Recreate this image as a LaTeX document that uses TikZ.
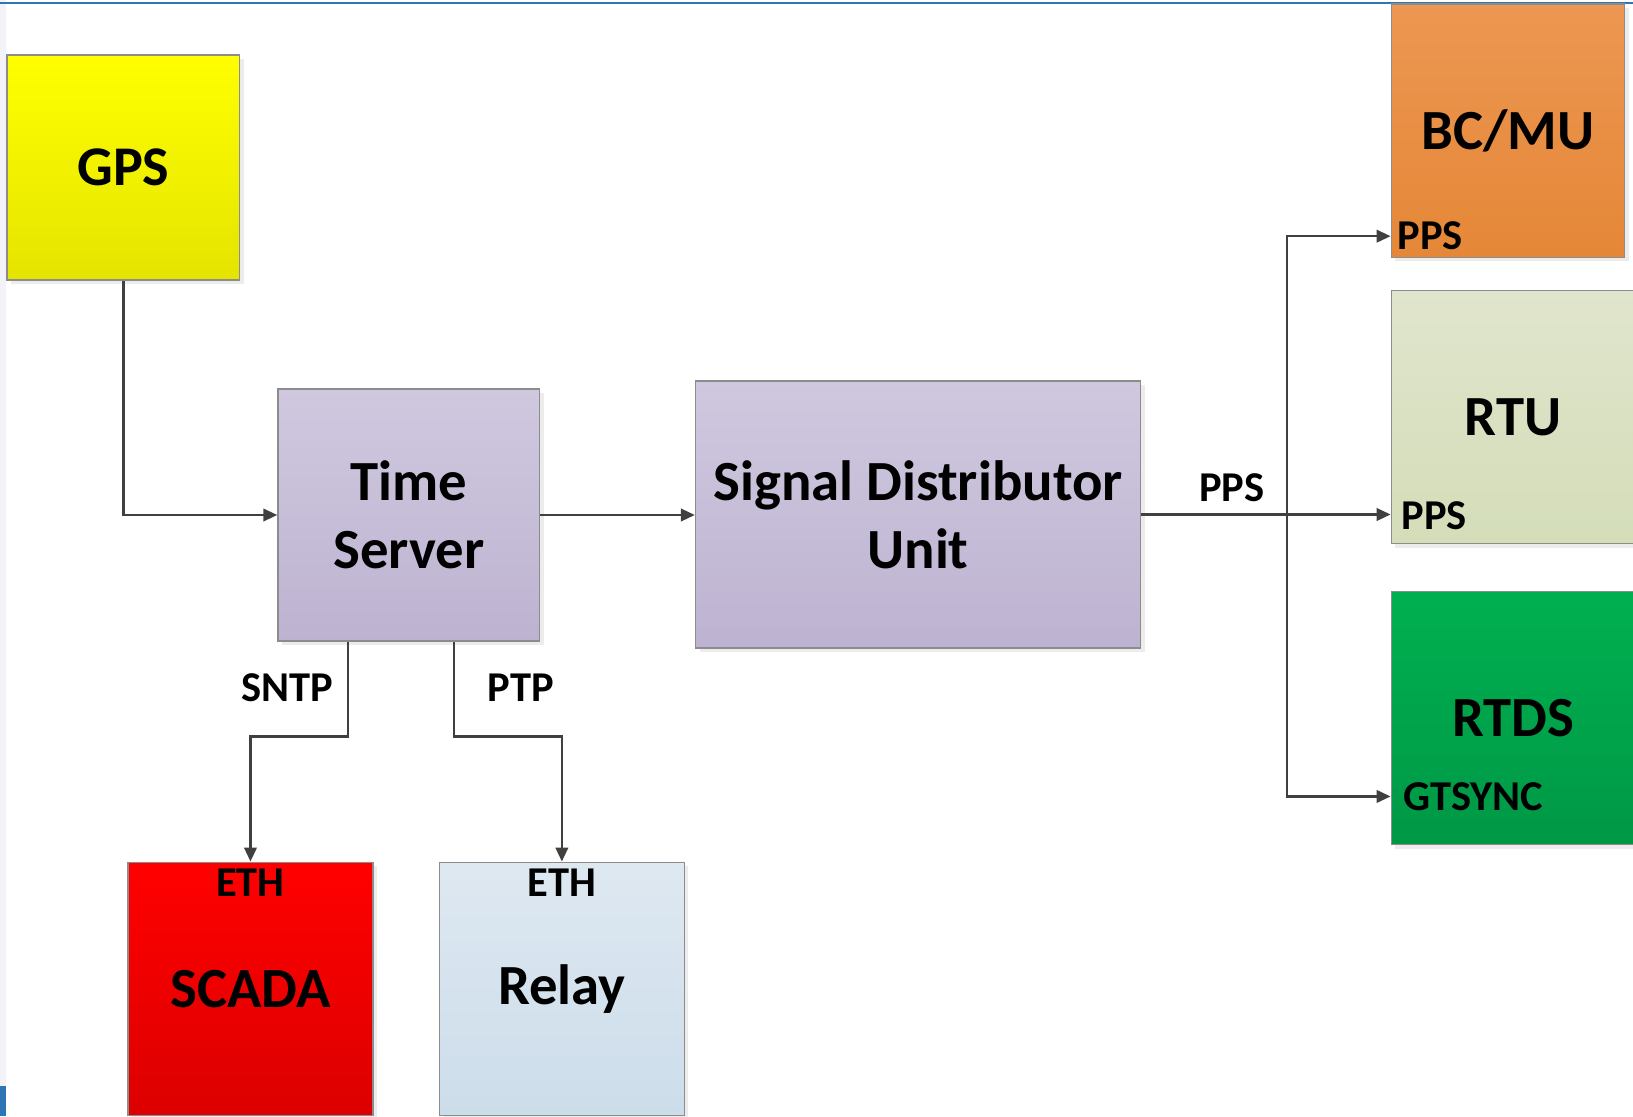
\documentclass[tikz,border=0pt]{standalone}
\usepackage{fontspec}
\setmainfont{Carlito}
\usetikzlibrary{arrows.meta,shadows}

\definecolor{edgegrey}{HTML}{8C8C8C}
\definecolor{linkgrey}{HTML}{404040}
\definecolor{frameblue}{HTML}{2E75B6}
\definecolor{framegrey}{HTML}{F2F2F8}

\begin{document}
\begin{tikzpicture}[x=0.01cm,y=-0.01cm,
    box/.style={draw=edgegrey, line width=0.4pt, inner sep=0pt, align=center,
        font=\bfseries\fontsize{15.5}{18.5}\selectfont,
        drop shadow={shadow xshift=0.04cm, shadow yshift=-0.04cm, fill=black!15}},
    tag/.style={font=\bfseries\fontsize{11.6}{13}\selectfont, inner sep=0pt},
    link/.style={draw=linkgrey, line width=0.65pt, -{Triangle[length=3.8pt,width=3.4pt]}}]

    % Rahmen
    \clip (0,0) rectangle (1568,1072);
    \fill[framegrey] (0,0) rectangle (6,1072);
    \fill[frameblue] (0,1043) rectangle (6,1072);
    \draw[frameblue, line width=0.4pt] (0,3) -- (1568,3);

    % Quelle und Server
    \node[box, top color=yellow, bottom color={rgb,255:red,228;green,228;blue,0},
          minimum width=2.23cm, minimum height=2.16cm, font=\bfseries\fontsize{15.3}{18}\selectfont]
        (gps) at (118.5,161) {GPS};
    \node[box, top color={rgb,255:red,208;green,200;blue,223}, bottom color={rgb,255:red,189;green,179;blue,209},
          minimum width=2.51cm, minimum height=2.42cm]
        (tserver) at (392.5,494.5) {Time\\Server};
    \node[box, top color={rgb,255:red,208;green,200;blue,223}, bottom color={rgb,255:red,189;green,179;blue,209},
          minimum width=4.27cm, minimum height=2.56cm]
        (sdu) at (881.5,494) {Signal Distributor\\Unit};

    % Empfaenger rechts
    \node[box, top color={rgb,255:red,236;green,151;blue,82}, bottom color={rgb,255:red,229;green,135;blue,55},
          minimum width=2.24cm, minimum height=2.43cm]
        (bcmu) at (1448,125.5) {BC/MU};
    \node[box, top color={rgb,255:red,224;green,229;blue,205}, bottom color={rgb,255:red,212;green,221;blue,184},
          minimum width=2.34cm, minimum height=2.43cm]
        (rtu) at (1453,400.5) {RTU};
    \node[box, top color={rgb,255:red,0;green,176;blue,80}, bottom color={rgb,255:red,0;green,152;blue,70},
          minimum width=2.34cm, minimum height=2.43cm]
        (rtds) at (1453,689.5) {RTDS};

    % Empfaenger unten
    \node[box, top color=red, bottom color={rgb,255:red,220;green,0;blue,0},
          minimum width=2.35cm, minimum height=2.43cm]
        (scada) at (240.5,949.5) {SCADA};
    \node[box, top color={rgb,255:red,222;green,232;blue,241}, bottom color={rgb,255:red,204;green,221;blue,234},
          minimum width=2.35cm, minimum height=2.43cm]
        (relay) at (539.5,949.5) {Relay};

    % Eingaenge
    \node[tag, anchor=west, inner xsep=0.06cm] (bcpps) at ([yshift=0.21cm]bcmu.south west) {PPS};
    \node[tag, anchor=west, inner xsep=0.1cm] (rtupps) at ([yshift=0.28cm]rtu.south west) {PPS};
    \node[tag, anchor=west, inner xsep=0.12cm] (rtdssync) at ([yshift=0.47cm]rtds.south west) {GTSYNC};
    \node[tag] (scadaeth) at ([yshift=-0.2cm]scada.north) {ETH};
    \node[tag] (relayeth) at ([yshift=-0.2cm]relay.north) {ETH};

    % Verbindungen
    \draw[link] (gps.south) |- (tserver.west);
    \draw[link] (tserver.east) -- (tserver.east -| sdu.west);
    \draw[link] (sdu.east) -- (sdu.east -| rtupps.west);
    \coordinate (split) at (1236,494);
    \draw[link] (split) |- (bcpps.west);
    \draw[link] (split) |- (rtdssync.west);
    \draw[link] ([xshift=-0.585cm]tserver.south) -- ++(0,91) -| (scadaeth.north |- scada.north);
    \draw[link] ([xshift=0.435cm]tserver.south) -- ++(0,91) -| (relayeth.north |- relay.north);

    % Beschriftungen
    \node[tag] (pps) at (1183,468) {PPS};
    \node[tag] (sntp) at (276,660) {SNTP};
    \node[tag] (ptp) at (500,660) {PTP};
\end{tikzpicture}
\end{document}
